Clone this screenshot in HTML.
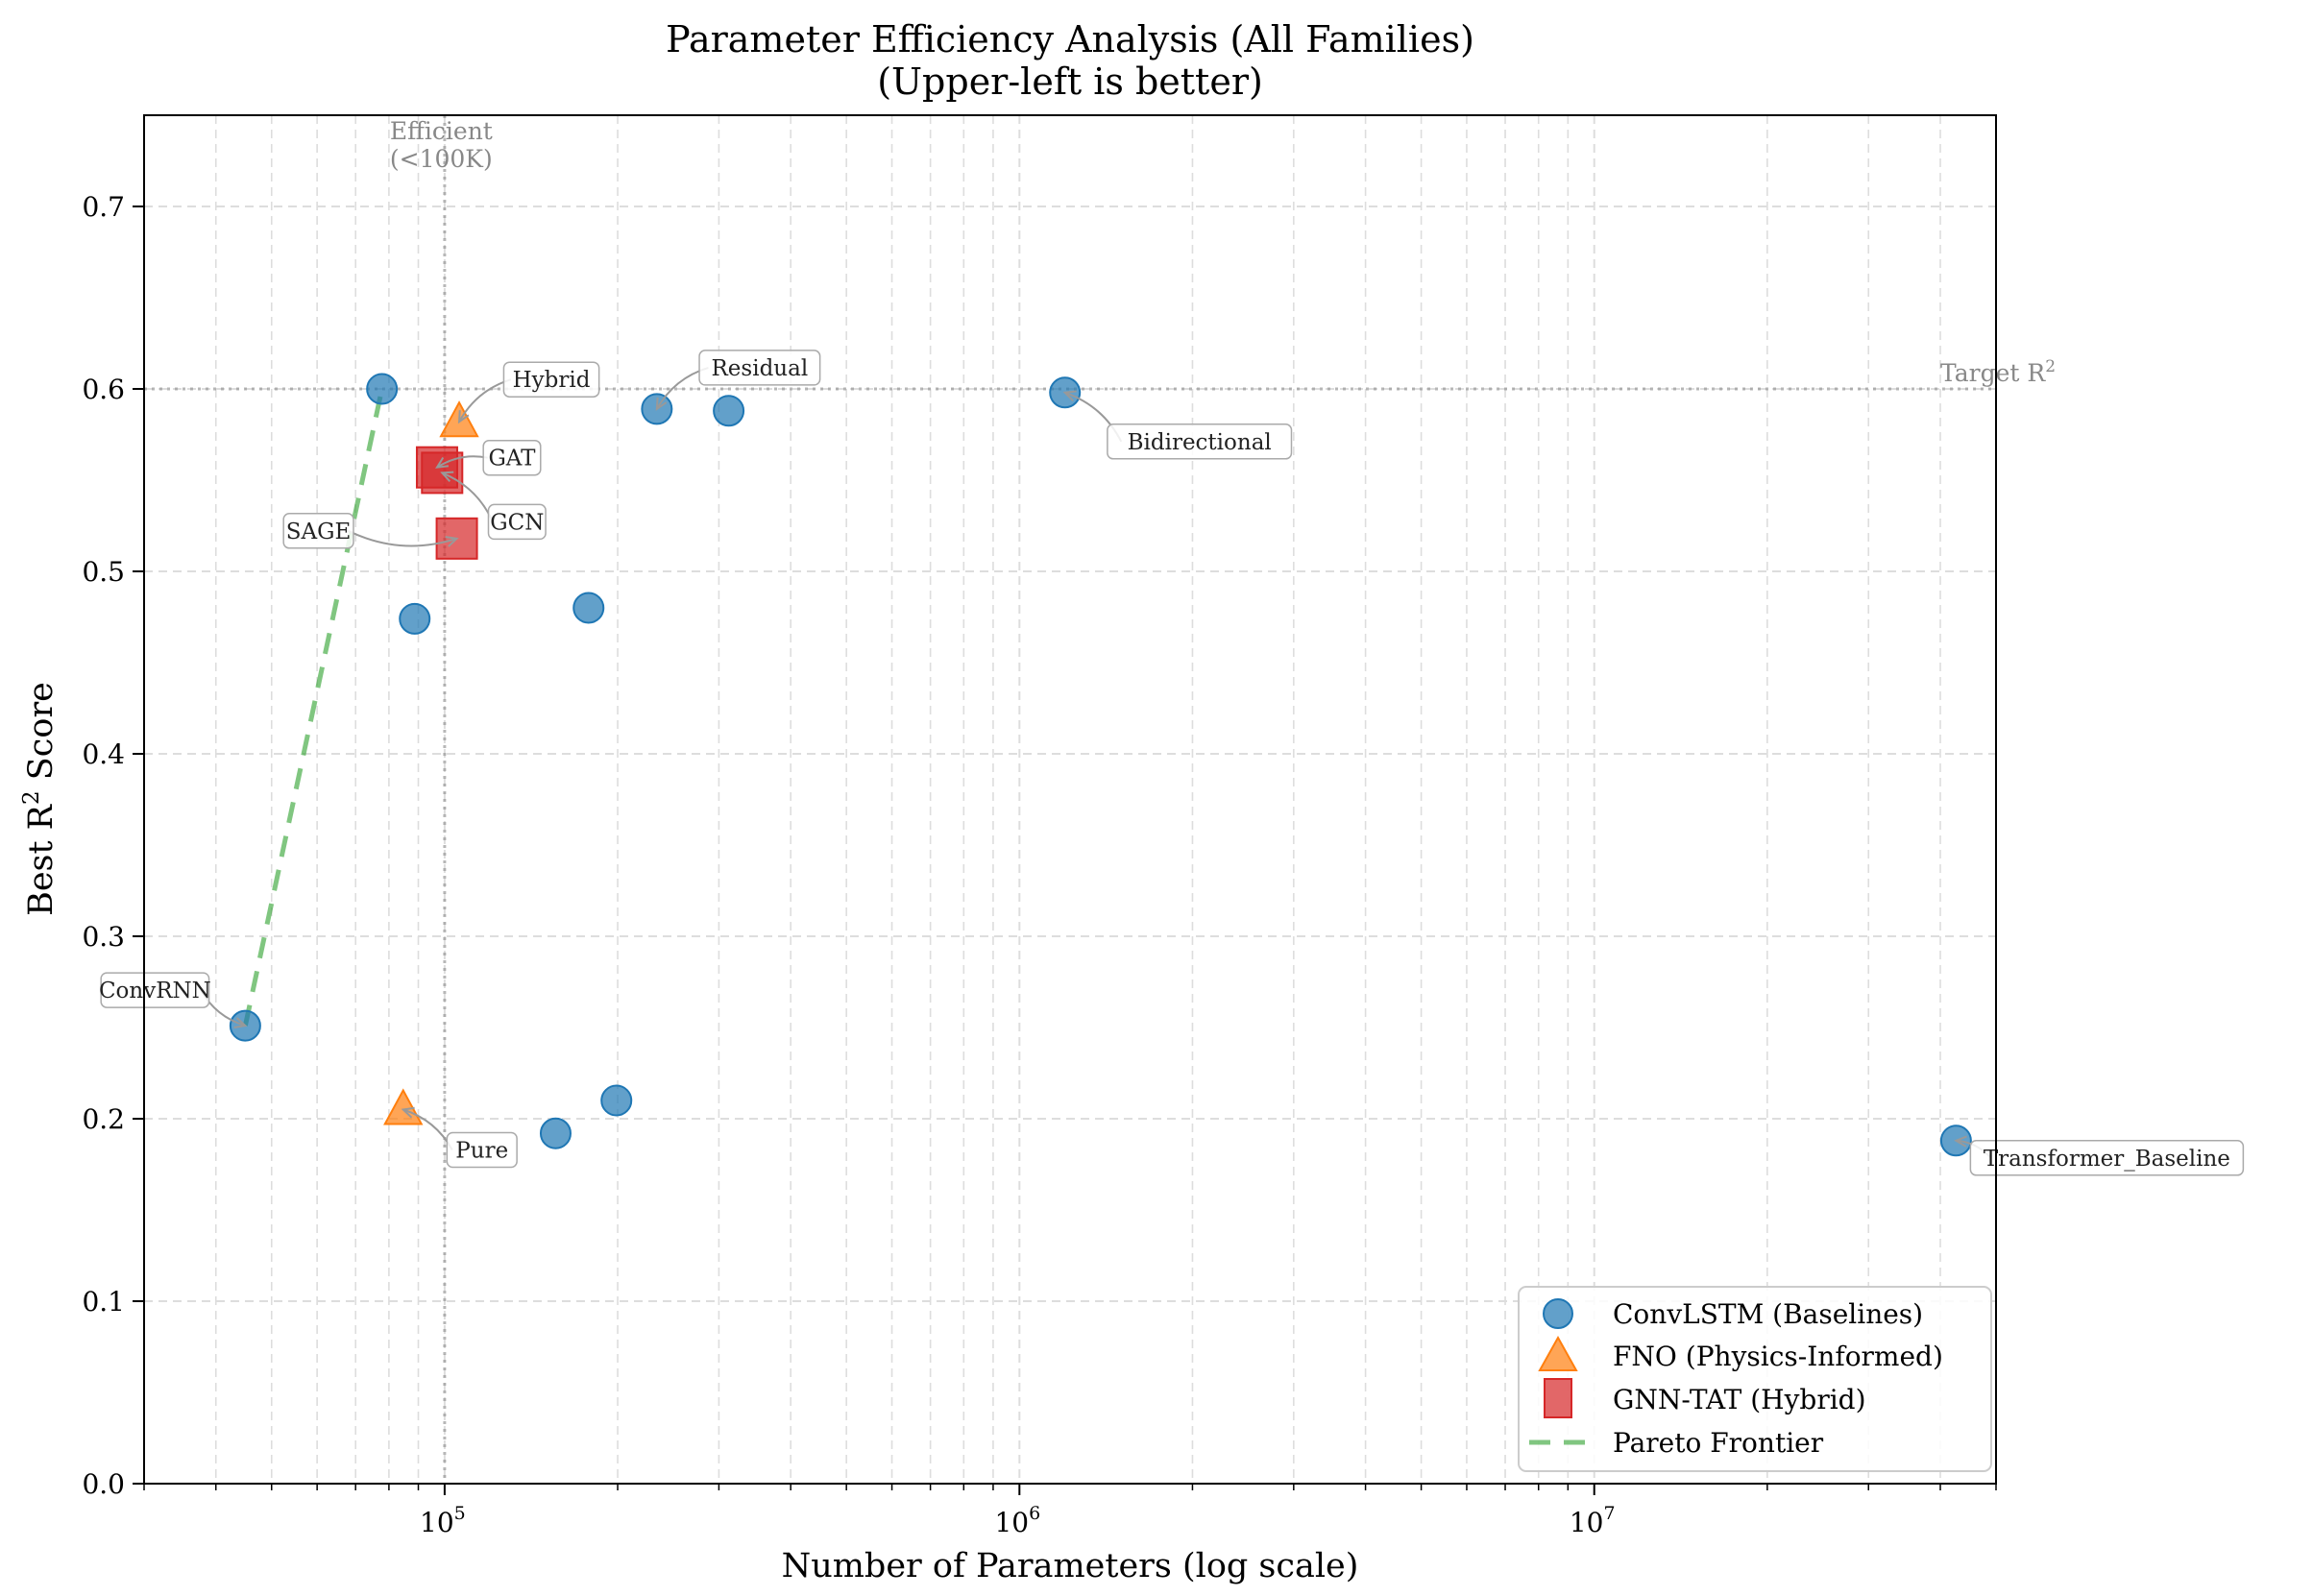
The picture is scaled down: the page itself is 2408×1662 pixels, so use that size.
<!DOCTYPE html>
<html><head><meta charset="utf-8"><style>
html,body{margin:0;padding:0;background:#fff}
svg{display:block;font-family:"DejaVu Serif","Liberation Serif",serif}
</style></head><body>
<svg id="chart" width="2408" height="1662" viewBox="0 0 2408 1662">
<g id="grid"></g>
<g id="refs"></g>
<g id="marks"></g>
<g id="annots"></g>
<rect x="150" y="120" width="1928" height="1425" fill="none" stroke="#000" stroke-width="2"/>
<g id="axes"></g>
<text x="1114" y="54" font-size="38" text-anchor="middle">Parameter Efficiency Analysis (All Families)</text>
<text x="1114" y="98" font-size="38" text-anchor="middle">(Upper-left is better)</text>
<text x="1114" y="1642" font-size="35" text-anchor="middle">Number of Parameters (log scale)</text>
<text transform="translate(54,832) rotate(-90)" font-size="35" text-anchor="middle">Best R<tspan dy="-14" font-size="23">2</tspan><tspan dy="14"> Score</tspan></text>
<g id="legend">
<rect x="1581" y="1340" width="492" height="192" rx="8" fill="#fff" fill-opacity="0.85" stroke="#ccc" stroke-width="2"/>
<g><circle cx="1622" cy="1368" r="15" fill="#1f77b4" fill-opacity="0.7" stroke="#1f77b4" stroke-width="2"/><text x="1679" y="1378" font-size="28">ConvLSTM (Baselines)</text></g>
<g><polygon points="1622,1393 1641,1427 1603,1427" fill="#ff7f0e" fill-opacity="0.7" stroke="#ff7f0e" stroke-width="2"/><text x="1679" y="1422" font-size="28">FNO (Physics-Informed)</text></g>
<g><rect x="1608" y="1436" width="28" height="40" fill="#d62728" fill-opacity="0.7" stroke="#d62728" stroke-width="2"/><text x="1679" y="1467" font-size="28">GNN-TAT (Hybrid)</text></g>
<g><line x1="1592" y1="1502" x2="1652" y2="1502" stroke="#2ca02c" stroke-opacity="0.6" stroke-width="5" stroke-dasharray="22,14"/><text x="1679" y="1512" font-size="28">Pareto Frontier</text></g>
</g>
</svg>
<script>
const NS='http://www.w3.org/2000/svg';
const convNames=['ConvRNN','','','Residual','','','','','Bidirectional','Transformer_Baseline'];
const convParams=[45000,77800,88700,234000,312000,178000,156000,199000,1200000,42600000];
const convR2=[0.251,0.600,0.474,0.589,0.588,0.480,0.192,0.210,0.598,0.188];
const fnoNames=['Hybrid','Pure'];
const fnoParams=[106000,84700];
const fnoR2=[0.582,0.205];
const gnnNames=['GAT','GCN','SAGE'];
const gnnParams=[97000,99000,105000];
const gnnR2=[0.557,0.554,0.518];
const paretoParams=[45000,77800];
const paretoR2=[0.251,0.600];
const yTicks=[0,0.1,0.2,0.3,0.4,0.5,0.6,0.7];
const xMajor=[5,6,7];
const targetR2=0.6, efficientParams=100000;

const L=150,R=2078,T=120,B=1545,XMIN=3e4,XMAX=5e7,YMAX=0.75;
function xs(v){return L+(Math.log10(v)-Math.log10(XMIN))/(Math.log10(XMAX)-Math.log10(XMIN))*(R-L);}
function ys(v){return B-v/YMAX*(B-T);}
function mk(tag,attrs,parent){const e=document.createElementNS(NS,tag);for(const k in attrs)e.setAttribute(k,attrs[k]);parent.appendChild(e);return e;}
const grid=document.getElementById('grid'),axes=document.getElementById('axes');
for(let d=4;d<=7;d++){for(let m=1;m<=9;m++){const v=m*Math.pow(10,d);if(v<XMIN||v>XMAX)continue;const x=xs(v);
 const g=mk('line',{x1:x,x2:x,y1:T,y2:B,stroke:'#ddd','stroke-width':m==1?2:1.6,'stroke-dasharray':'9,6'},grid);
 
 const t=mk('line',{x1:x,x2:x,y1:B,y2:B+(m==1?12:7),stroke:'#000','stroke-width':m==1?2:1.5},axes);
 }}
xMajor.forEach(e=>{const t=mk('text',{x:xs(Math.pow(10,e))-2,y:B+50,'font-size':28,'text-anchor':'middle'},axes);
 
 t.innerHTML='10<tspan dy="-13" font-size="19">'+e+'</tspan>';});
yTicks.forEach(v=>{const y=ys(v);
 const g=mk('line',{x1:L,x2:R,y1:y,y2:y,stroke:'#ddd','stroke-width':2,'stroke-dasharray':'9,6'},grid);
 
 const t=mk('line',{x1:L-12,x2:L,y1:y,y2:y,stroke:'#000','stroke-width':2},axes);
 
 const l=mk('text',{x:L-20,y:y+10,'font-size':28,'text-anchor':'end'},axes);
 
 l.textContent=v.toFixed(1);});
const refs=document.getElementById('refs');
let r1=mk('line',{x1:L,x2:R,y1:ys(targetR2),y2:ys(targetR2),stroke:'#999','stroke-opacity':0.7,'stroke-width':3,'stroke-dasharray':'3,5'},refs);

let r2=mk('line',{x1:xs(efficientParams),x2:xs(efficientParams),y1:T,y2:B,stroke:'#999','stroke-opacity':0.7,'stroke-width':3,'stroke-dasharray':'3,5'},refs);

let t1=mk('text',{x:2020,y:ys(targetR2)-8,'font-size':25,fill:'#888'},refs);

t1.innerHTML='Target R<tspan dy="-10" font-size="17">2</tspan>';
let t2=mk('text',{x:xs(efficientParams)-57,y:145,'font-size':25,fill:'#888'},refs);

t2.innerHTML='Efficient<tspan x="'+(xs(efficientParams)-57)+'" dy="29">(&lt;100K)</tspan>';
const marks=document.getElementById('marks');
let pl=mk('polyline',{points:paretoParams.map((p,i)=>xs(p)+','+ys(paretoR2[i])).join(' '),fill:'none',stroke:'#2ca02c','stroke-opacity':0.6,'stroke-width':5,'stroke-dasharray':'22,14'},marks);

convParams.forEach((p,i)=>{const c=mk('circle',{cx:xs(p),cy:ys(convR2[i]),r:15.5,fill:'#1f77b4','fill-opacity':0.7,stroke:'#1f77b4','stroke-width':2},marks);
 });
fnoParams.forEach((p,i)=>{const x=xs(p),y=ys(fnoR2[i]);const c=mk('polygon',{points:(x)+','+(y-20)+' '+(x+19)+','+(y+15)+' '+(x-19)+','+(y+15),fill:'#ff7f0e','fill-opacity':0.7,stroke:'#ff7f0e','stroke-width':2},marks);
 });
gnnParams.forEach((p,i)=>{const x=xs(p),y=ys(gnnR2[i]);const c=mk('rect',{x:x-21,y:y-21,width:42,height:42,fill:'#d62728','fill-opacity':0.7,stroke:'#d62728','stroke-width':2},marks);
 });
const annOffsets={ConvRNN:[-94,-37],Residual:[107,-43],Bidirectional:[140,51],Transformer_Baseline:[157,18],Hybrid:[96,-44],Pure:[82,42],GAT:[78,-10],GCN:[78,51],SAGE:[-144,-8]};
const annots=document.getElementById('annots');
function annotate(name,p,r){if(!name)return;const x=xs(p),y=ys(r);const o=annOffsets[name];const lx=x+o[0],ly=y+o[1];
 const w=name.length*13.2+20,h=36;
 const ex=lx-Math.sign(o[0])*w/2*0.85,ey=ly;
 const mx=(ex+x)/2+(ey-y)*0.2,my=(ey+y)/2-(ex-x)*0.2;
 const a=mk('path',{d:'M'+ex+','+ey+' Q'+mx+','+my+' '+x+','+y,fill:'none',stroke:'#999','stroke-width':2},annots);
 
 const ang=Math.atan2(y-my,x-mx);
 const h1=mk('path',{d:'M'+(x-12*Math.cos(ang-0.45))+','+(y-12*Math.sin(ang-0.45))+' L'+x+','+y+' L'+(x-12*Math.cos(ang+0.45))+','+(y-12*Math.sin(ang+0.45)),fill:'none',stroke:'#999','stroke-width':2},annots);
 
 const b=mk('rect',{x:lx-w/2,y:ly-h/2,width:w,height:h,rx:6,fill:'#fff','fill-opacity':0.85,stroke:'#aaa','stroke-width':1.5},annots);
 
 const t=mk('text',{x:lx,y:ly+8,'font-size':23,'text-anchor':'middle',fill:'#222'},annots);
 
 t.textContent=name;}
convNames.forEach((n,i)=>annotate(n,convParams[i],convR2[i]));
fnoNames.forEach((n,i)=>annotate(n,fnoParams[i],fnoR2[i]));
gnnNames.forEach((n,i)=>annotate(n,gnnParams[i],gnnR2[i]));
</script>
</body></html>
